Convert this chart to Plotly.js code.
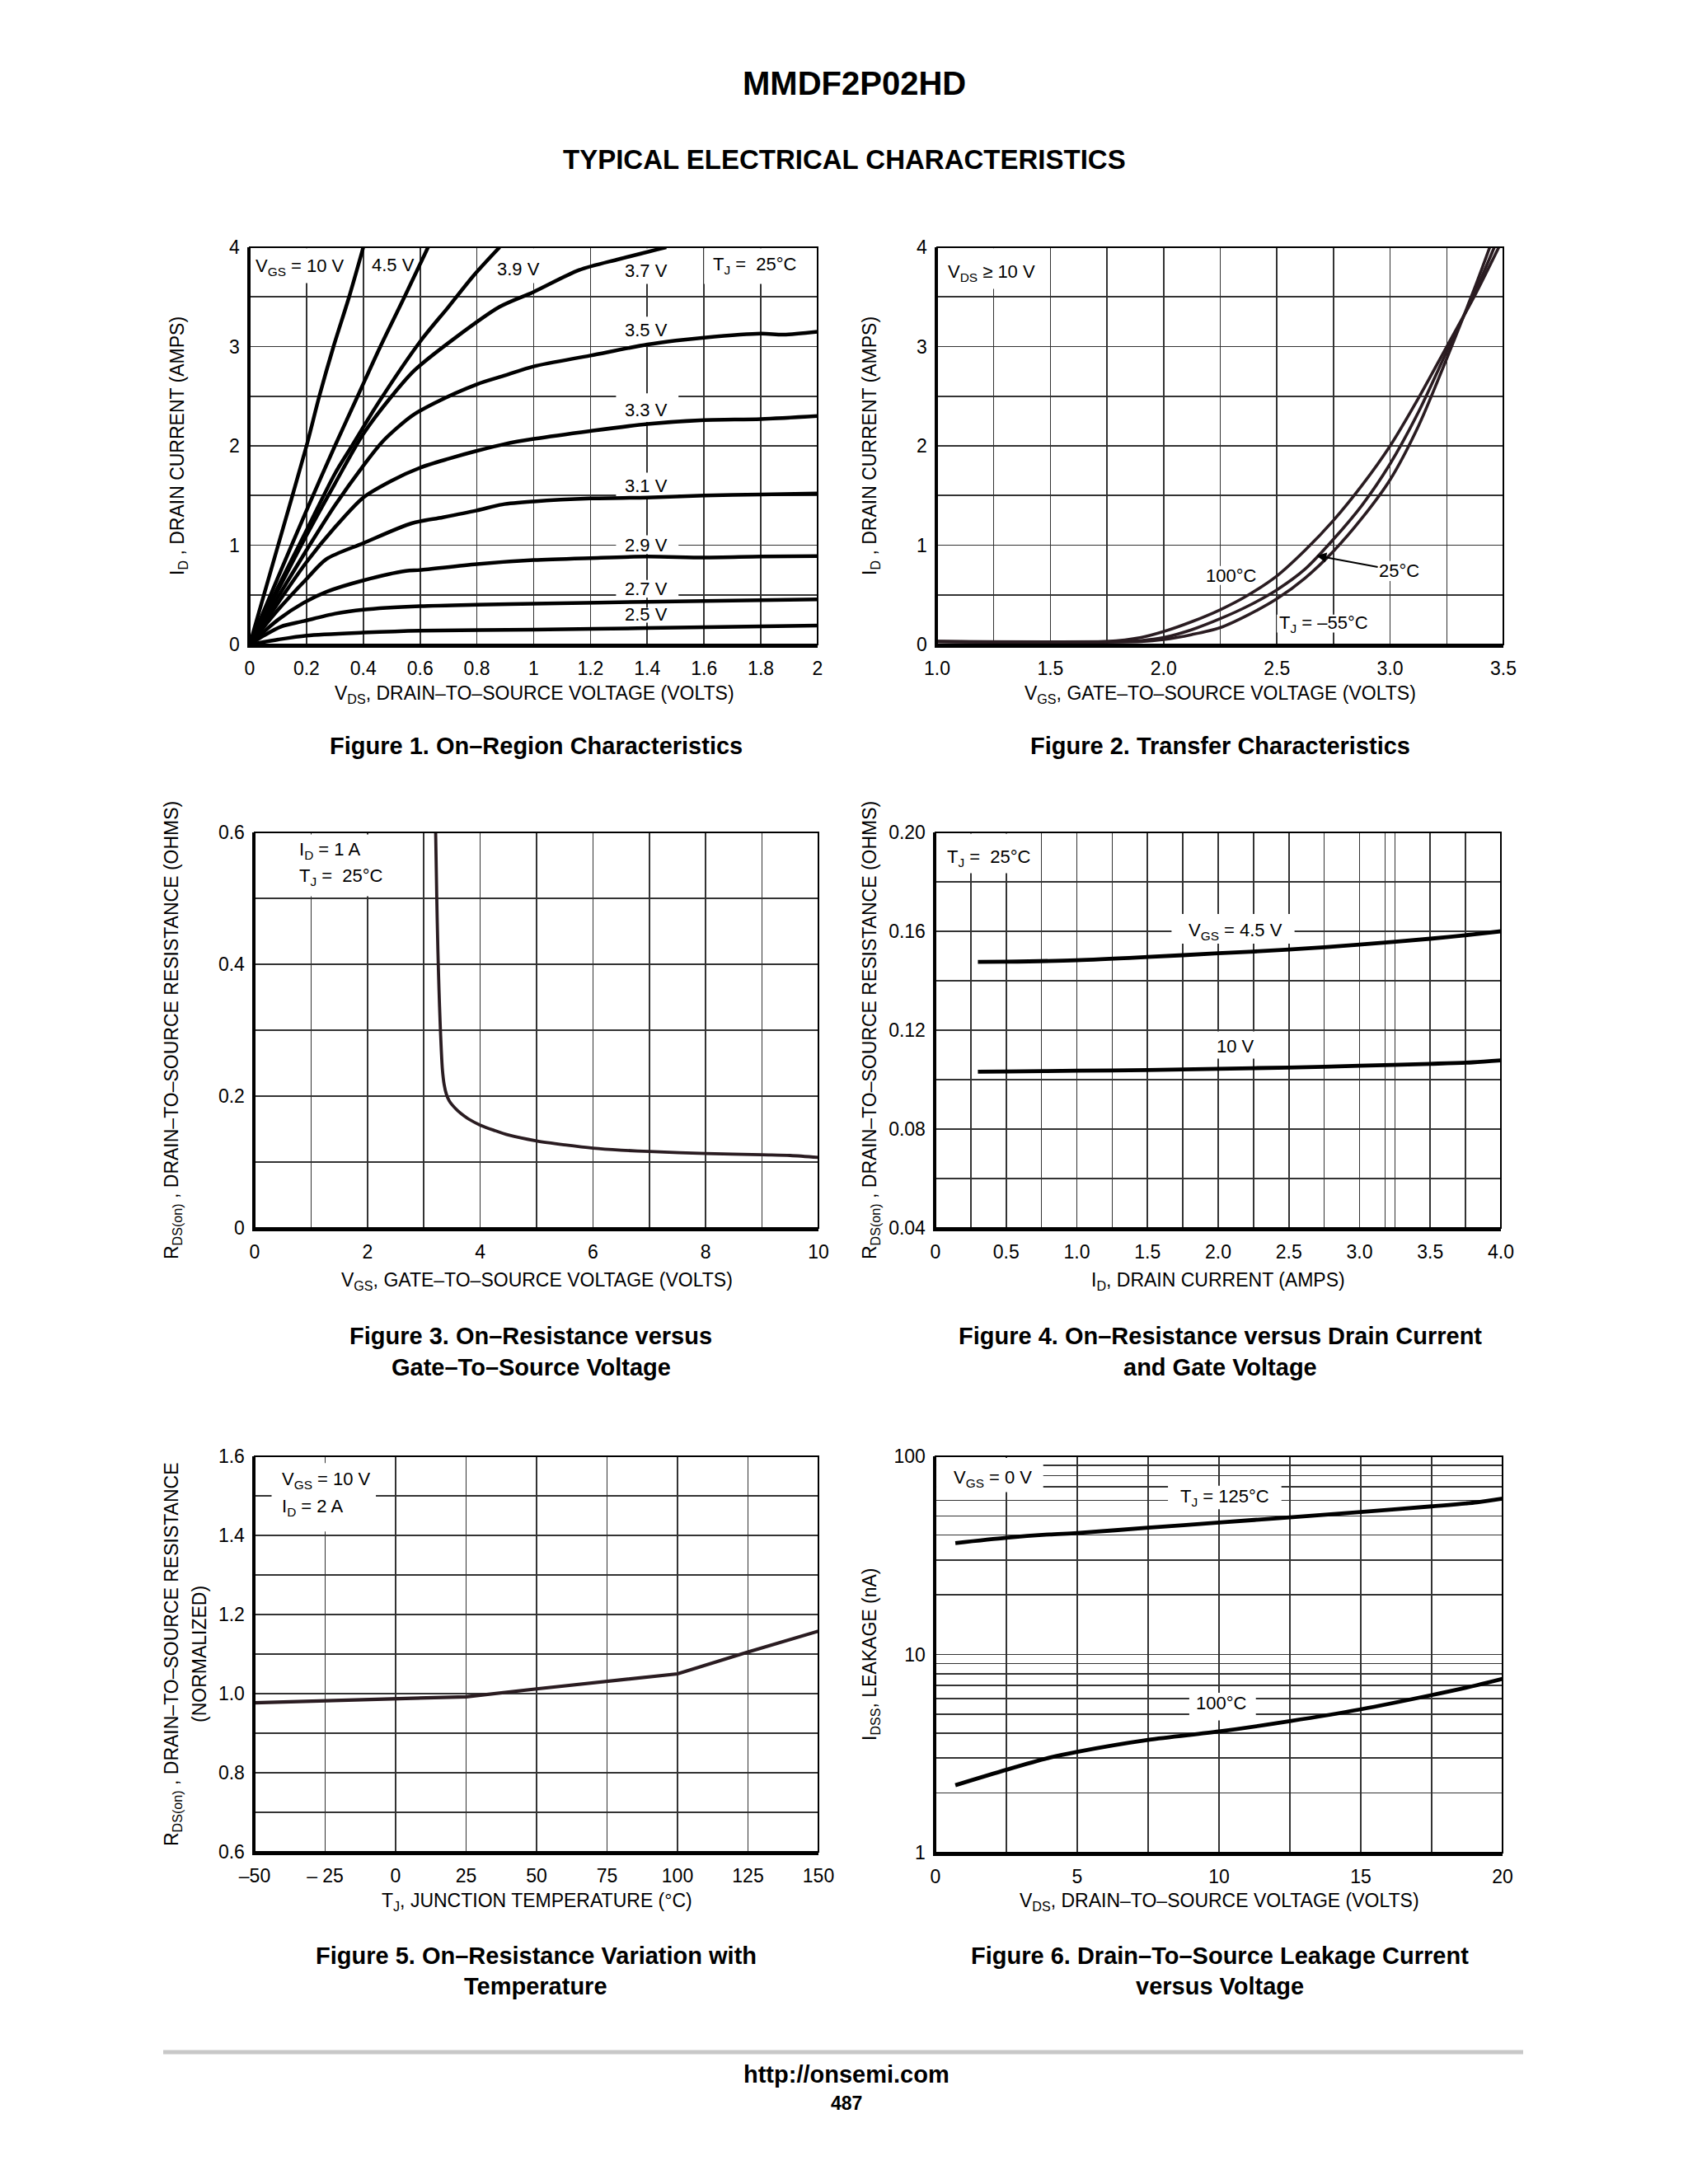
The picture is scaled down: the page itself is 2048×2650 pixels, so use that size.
<!DOCTYPE html>
<html><head><meta charset="utf-8">
<script src="https://cdn.plot.ly/plotly-3.0.1.min.js"></script>
<style>html,body{margin:0;padding:0;background:#fff;}#chart{width:2048px;height:2650px;}</style>
</head><body><div id="chart"></div>
<script>
// ---------- Figure 1: On-Region Characteristics ----------
const f1_10V_vds = [0, 0.1, 0.2, 0.245, 0.295, 0.35, 0.40];
const f1_10V_id  = [0, 1.0, 2.0, 2.5, 3.0, 3.5, 4.0];
const f1_45V_vds = [0, 0.1, 0.2, 0.3, 0.38, 0.46, 0.545, 0.628];
const f1_45V_id  = [0, 0.68, 1.35, 2.0, 2.5, 3.0, 3.5, 4.0];
const f1_39V_vds = [0, 0.1, 0.2, 0.3, 0.36, 0.45, 0.6, 0.7, 0.79, 0.88];
const f1_39V_id  = [0, 0.58, 1.15, 1.72, 2.0, 2.42, 3.05, 3.4, 3.72, 4.0];
const f1_37V_vds = [0, 0.1, 0.2, 0.3, 0.4, 0.5, 0.58, 0.72, 0.88, 1.0, 1.16, 1.3, 1.467];
const f1_37V_id  = [0, 0.55, 1.1, 1.62, 2.12, 2.5, 2.76, 3.08, 3.4, 3.55, 3.77, 3.88, 4.0];
const f1_35V_vds = [0, 0.1, 0.2, 0.3, 0.4, 0.47, 0.57, 0.65, 0.8, 0.9, 1.0, 1.2, 1.4, 1.5, 1.6, 1.8, 1.88, 2.0];
const f1_35V_id  = [0, 0.48, 0.95, 1.4, 1.8, 2.05, 2.3, 2.43, 2.62, 2.71, 2.8, 2.91, 3.02, 3.06, 3.09, 3.13, 3.12, 3.15];
const f1_33V_vds = [0, 0.1, 0.2, 0.3, 0.4, 0.5, 0.6, 0.7, 0.8, 0.9, 1.0, 1.2, 1.4, 1.6, 1.8, 2.0];
const f1_33V_id  = [0, 0.42, 0.83, 1.18, 1.48, 1.65, 1.78, 1.87, 1.95, 2.02, 2.07, 2.15, 2.22, 2.26, 2.27, 2.30];
const f1_31V_vds = [0, 0.1, 0.2, 0.27, 0.4, 0.57, 0.68, 0.8, 0.89, 1.0, 1.2, 1.4, 1.6, 1.8, 2.0];
const f1_31V_id  = [0, 0.35, 0.66, 0.86, 1.02, 1.22, 1.28, 1.35, 1.41, 1.44, 1.47, 1.48, 1.50, 1.51, 1.52];
const f1_29V_vds = [0, 0.1, 0.19, 0.27, 0.4, 0.55, 0.6, 0.8, 1.0, 1.2, 1.4, 1.6, 1.8, 2.0];
const f1_29V_id  = [0, 0.25, 0.42, 0.53, 0.645, 0.74, 0.75, 0.81, 0.85, 0.87, 0.885, 0.875, 0.885, 0.89];
const f1_27V_vds = [0, 0.05, 0.11, 0.19, 0.3, 0.4, 0.6, 0.8, 1.0, 1.4, 2.0];
const f1_27V_id  = [0, 0.09, 0.18, 0.235, 0.31, 0.35, 0.385, 0.40, 0.41, 0.43, 0.455];
const f1_25V_vds = [0, 0.1, 0.2, 0.4, 0.6, 1.0, 1.4, 2.0];
const f1_25V_id  = [0, 0.05, 0.09, 0.12, 0.14, 0.15, 0.165, 0.19];
const f1_xticks = [0, 0.2, 0.4, 0.6, 0.8, 1, 1.2, 1.4, 1.6, 1.8, 2];
const f1_xlabels = ['0', '0.2', '0.4', '0.6', '0.8', '1', '1.2', '1.4', '1.6', '1.8', '2'];
const f1_xminor = [];
const f1_yticks = [0, 1, 2, 3, 4];
const f1_ylabels = ['0', '1', '2', '3', '4'];
const f1_yminor = [0.5, 1.5, 2.5, 3.5];

// ---------- Figure 2: Transfer Characteristics ----------
const f2_100C_vgs = [1.0, 1.75, 1.9, 2.0, 2.125, 2.25, 2.375, 2.5, 2.625, 2.75, 2.875, 3.0, 3.125, 3.25, 3.375, 3.48];
const f2_100C_id  = [0.03, 0.03, 0.07, 0.13, 0.23, 0.35, 0.5, 0.69, 0.95, 1.25, 1.6, 2.0, 2.48, 3.0, 3.52, 4.0];
const f2_25C_vgs  = [1.0, 1.8, 1.9, 2.0, 2.125, 2.25, 2.375, 2.5, 2.625, 2.75, 2.875, 3.0, 3.125, 3.25, 3.375, 3.46];
const f2_25C_id   = [0.03, 0.03, 0.04, 0.07, 0.15, 0.26, 0.39, 0.55, 0.76, 1.06, 1.4, 1.82, 2.34, 2.95, 3.55, 4.0];
const f2_m55C_vgs = [1.0, 1.9, 2.0, 2.125, 2.25, 2.375, 2.5, 2.625, 2.75, 2.875, 3.0, 3.125, 3.25, 3.375, 3.44];
const f2_m55C_id  = [0.03, 0.03, 0.05, 0.1, 0.17, 0.3, 0.46, 0.67, 0.94, 1.27, 1.66, 2.2, 2.88, 3.6, 4.0];
const f2_xticks = [1.0, 1.5, 2.0, 2.5, 3.0, 3.5];
const f2_xlabels = ['1.0', '1.5', '2.0', '2.5', '3.0', '3.5'];
const f2_xminor = [1.25, 1.75, 2.25, 2.75, 3.25];
const f2_yticks = [0, 1, 2, 3, 4];
const f2_ylabels = ['0', '1', '2', '3', '4'];
const f2_yminor = [0.5, 1.5, 2.5, 3.5];

// ---------- Figure 3: On-Resistance vs Gate-To-Source Voltage ----------
const f3_vgs = [3.21, 3.23, 3.25, 3.27, 3.29, 3.31, 3.33, 3.36, 3.40, 3.45, 3.5, 3.6, 3.7, 3.8, 4.0, 4.25, 4.5, 5.0, 5.5, 6.0, 6.5, 7.0, 8.0, 9.0, 9.5, 10];
const f3_rds = [0.6, 0.5, 0.42, 0.36, 0.31, 0.27, 0.24, 0.218, 0.203, 0.193, 0.187, 0.178, 0.171, 0.165, 0.156, 0.148, 0.141, 0.132, 0.126, 0.121, 0.118, 0.116, 0.113, 0.111, 0.110, 0.107];
const f3_xticks = [0, 2, 4, 6, 8, 10];
const f3_xlabels = ['0', '2', '4', '6', '8', '10'];
const f3_xminor = [1, 3, 5, 7, 9];
const f3_yticks = [0, 0.2, 0.4, 0.6];
const f3_ylabels = ['0', '0.2', '0.4', '0.6'];
const f3_yminor = [0.1, 0.3, 0.5];

// ---------- Figure 4: On-Resistance vs Drain Current and Gate Voltage ----------
const f4_id = [0.3, 0.5, 1.0, 1.5, 2.0, 2.5, 3.0, 3.5, 3.8, 4.0];
const f4_45V_rds = [0.1476, 0.1477, 0.1483, 0.1496, 0.1511, 0.1526, 0.1546, 0.1570, 0.1587, 0.1600];
const f4_10V_rds = [0.1032, 0.1033, 0.1036, 0.1039, 0.1044, 0.1049, 0.1056, 0.1064, 0.1070, 0.1078];
const f4_xticks = [0, 0.5, 1.0, 1.5, 2.0, 2.5, 3.0, 3.5, 4.0];
const f4_xlabels = ['0', '0.5', '1.0', '1.5', '2.0', '2.5', '3.0', '3.5', '4.0'];
const f4_xminor = [0.25, 0.75, 1.25, 1.75, 2.25, 2.75, 3.18, 3.25, 3.75];
const f4_yticks = [0.04, 0.08, 0.12, 0.16, 0.20];
const f4_ylabels = ['0.04', '0.08', '0.12', '0.16', '0.20'];
const f4_yminor = [0.06, 0.10, 0.14, 0.18];

// ---------- Figure 5: On-Resistance Variation with Temperature ----------
const f5_tj = [-50, -25, 0, 25, 50, 75, 100, 125, 150];
const f5_rds = [0.977, 0.982, 0.987, 0.992, 1.012, 1.031, 1.050, 1.105, 1.158];
const f5_xticks = [-50, -25, 0, 25, 50, 75, 100, 125, 150];
const f5_xlabels = ['\u201350', '\u2013 25', '0', '25', '50', '75', '100', '125', '150'];
const f5_xminor = [];
const f5_yticks = [0.6, 0.8, 1.0, 1.2, 1.4, 1.6];
const f5_ylabels = ['0.6', '0.8', '1.0', '1.2', '1.4', '1.6'];
const f5_yminor = [0.7, 0.9, 1.1, 1.3, 1.5];

// ---------- Figure 6: Drain-To-Source Leakage Current vs Voltage ----------
const f6_vds = [0.7, 2.5, 4.0, 5.0, 7.5, 10, 12.5, 15, 17.5, 19.1, 20];
const f6_125C = [36.5, 38.8, 40.3, 41.0, 43.6, 46.3, 49.2, 52.3, 55.9, 58.6, 61.2];
const f6_100C = [2.19, 2.62, 3.01, 3.23, 3.71, 4.09, 4.61, 5.29, 6.24, 7.0, 7.53];
const f6_xticks = [0, 5, 10, 15, 20];
const f6_xlabels = ['0', '5', '10', '15', '20'];
const f6_xminor = [2.5, 7.5, 12.5, 17.5];
const f6_yticks = [1, 10, 100];
const f6_ylabels = ['1', '10', '100'];
const f6_yminor = [2, 3, 4, 5, 6, 7, 8, 9, 20, 30, 40, 50, 60, 70, 80, 90];

// ---------- layout helpers ----------
const W = 2048, H = 2650;
const LAB = '"Liberation Sans",Arial,Helvetica,sans-serif';
const SANS = '"Liberation Sans",Arial,Helvetica,sans-serif';
const BLACK = '#000000', DARK = '#2a1c21', GRID = '#333333';
const px = x => x / W, py = y => 1 - y / H;
const boxes = {1:[303,992,300,782], 2:[1137,1824,300,782], 3:[309,993,1010,1490], 4:[1135,1821,1010,1490], 5:[309,993,1767,2247], 6:[1135,1823,1767,2248]};
const xid = n => (n === 1 ? 'x' : 'x' + n), yid = n => (n === 1 ? 'y' : 'y' + n);

function baseAxis(range, vals, text, minor) {
  return {range:range, tickmode:'array', tickvals:vals, ticktext:text,
    minor:{tickmode:'array', tickvals:minor, showgrid:true, gridcolor:GRID, gridwidth:1.6, ticks:''},
    showgrid:true, gridcolor:GRID, gridwidth:1.6, showline:true, linecolor:BLACK, linewidth:3.5, ticks:'',
    zeroline:false, tickfont:{family:LAB, size:23, color:BLACK}, fixedrange:true};
}
function axisX(n, range, vals, text, minor, extra) {
  const b = boxes[n];
  return Object.assign(baseAxis(range, vals, text, minor), {domain:[px(b[0]), px(b[1])], anchor:yid(n), ticklabelstandoff:6}, extra||{});
}
function axisY(n, range, vals, text, minor, extra) {
  const b = boxes[n];
  return Object.assign(baseAxis(range, vals, text, minor), {domain:[py(b[3]), py(b[2])], anchor:xid(n), ticklabelstandoff:4}, extra||{});
}
function line(n, x, y, color, width, shape) {
  return {type:'scatter', mode:'lines', x:x, y:y, xaxis:xid(n), yaxis:yid(n),
    line:{color:color, width:width, shape:shape||'spline', smoothing:0.8}, hoverinfo:'skip'};
}

const traces = [
  line(1, f1_10V_vds, f1_10V_id, BLACK, 4.5), line(1, f1_45V_vds, f1_45V_id, BLACK, 4.5),
  line(1, f1_39V_vds, f1_39V_id, BLACK, 4.5), line(1, f1_37V_vds, f1_37V_id, BLACK, 4.5),
  line(1, f1_35V_vds, f1_35V_id, BLACK, 4.5), line(1, f1_33V_vds, f1_33V_id, BLACK, 4.5),
  line(1, f1_31V_vds, f1_31V_id, BLACK, 4.5), line(1, f1_29V_vds, f1_29V_id, BLACK, 4.5),
  line(1, f1_27V_vds, f1_27V_id, BLACK, 4.5), line(1, f1_25V_vds, f1_25V_id, BLACK, 4.5),
  line(2, f2_100C_vgs, f2_100C_id, DARK, 3.6), line(2, f2_25C_vgs, f2_25C_id, DARK, 3.6), line(2, f2_m55C_vgs, f2_m55C_id, DARK, 3.6),
  line(3, f3_vgs, f3_rds, DARK, 3.8),
  line(4, f4_id, f4_45V_rds, BLACK, 4.8), line(4, f4_id, f4_10V_rds, BLACK, 4.8),
  line(5, f5_tj, f5_rds, DARK, 4.2, 'linear'),
  line(6, f6_vds, f6_125C, BLACK, 4.8), line(6, f6_vds, f6_100C, BLACK, 4.8)
];

const layout = {
  width:W, height:H, margin:{l:0, r:0, t:0, b:0}, paper_bgcolor:'#fff', plot_bgcolor:'#fff', showlegend:false,
  xaxis:axisX(1, [0, 2], f1_xticks, f1_xlabels, f1_xminor), yaxis:axisY(1, [0, 4], f1_yticks, f1_ylabels, f1_yminor),
  xaxis2:axisX(2, [1, 3.5], f2_xticks, f2_xlabels, f2_xminor), yaxis2:axisY(2, [0, 4], f2_yticks, f2_ylabels, f2_yminor),
  xaxis3:axisX(3, [0, 10], f3_xticks, f3_xlabels, f3_xminor), yaxis3:axisY(3, [0, 0.6], f3_yticks, f3_ylabels, f3_yminor),
  xaxis4:axisX(4, [0, 4], f4_xticks, f4_xlabels, f4_xminor), yaxis4:axisY(4, [0.04, 0.20], f4_yticks, f4_ylabels, f4_yminor),
  xaxis5:axisX(5, [-50, 150], f5_xticks, f5_xlabels, f5_xminor), yaxis5:axisY(5, [0.6, 1.6], f5_yticks, f5_ylabels, f5_yminor),
  xaxis6:axisX(6, [0, 20], f6_xticks, f6_xlabels, f6_xminor), yaxis6:axisY(6, [0, 2], f6_yticks, f6_ylabels, f6_yminor, {type:'log'}),
  shapes:[], annotations:[]
};
const S = layout.shapes;

// white boxes behind text labels (hide gridlines, stay under the curves)
function wbox(n, x0, x1, y0, y1) {
  S.push({type:'rect', xref:xid(n), yref:yid(n), x0:x0, x1:x1, y0:y0, y1:y1, fillcolor:'#ffffff', line:{width:0}, layer:'between'});
}
wbox(1, 0.006, 0.37, 3.64, 3.99); wbox(1, 0.42, 0.59, 3.64, 3.99); wbox(1, 0.85, 1.04, 3.64, 3.99);
wbox(1, 1.29, 1.51, 3.63, 3.99); wbox(1, 1.60, 1.97, 3.63, 3.99);
wbox(1, 1.29, 1.51, 3.02, 3.30); wbox(1, 1.29, 1.51, 2.24, 2.53); wbox(1, 1.29, 1.51, 1.48, 1.73);
wbox(1, 1.29, 1.51, 0.91, 1.10); wbox(1, 1.29, 1.51, 0.47, 0.65); wbox(1, 1.29, 1.51, 0.22, 0.37);
wbox(2, 1.006, 1.47, 3.58, 3.99); wbox(2, 2.17, 2.43, 0.60, 0.79); wbox(2, 2.94, 3.14, 0.64, 0.84); wbox(2, 2.50, 2.90, 0.12, 0.30);
wbox(3, 0.3, 2.6, 0.503, 0.597);
wbox(4, 0.006, 0.70, 0.1835, 0.1995); wbox(4, 1.67, 2.54, 0.155, 0.167); wbox(4, 1.95, 2.30, 0.1085, 0.1195);
wbox(5, -44, -7, 1.41, 1.583);
wbox(6, 0.03, 3.8, 66, 98); wbox(6, 8.2, 12.2, 54, 71); wbox(6, 8.95, 11.3, 4.65, 6.4);

// frames (top/right thinner)
for (let n = 1; n <= 6; n++) {
  S.push({type:'rect', xref:xid(n)+' domain', yref:yid(n)+' domain', x0:0, x1:1, y0:0, y1:1, line:{color:BLACK, width:2}, layer:'above'});
}
// footer rule
S.push({type:'line', xref:'paper', yref:'paper', x0:px(198), x1:px(1848), y0:py(2490), y1:py(2490), line:{color:'#c8c8c8', width:5}, layer:'above'});

const NB = '\u00a0';
function lab(n, x, y, text, opts) {
  return Object.assign({xref:xid(n), yref:yid(n), x:x, y:y, text:text, showarrow:false, xanchor:'center', yanchor:'middle',
    font:{family:LAB, size:22, color:BLACK}}, opts||{});
}
const A = layout.annotations;
// fig 1 labels
A.push(lab(1, 0.015, 3.8, 'V<sub>GS</sub> = 10 V', {xanchor:'left'}));
A.push(lab(1, 0.505, 3.82, '4.5 V'));
A.push(lab(1, 0.945, 3.78, '3.9 V'));
A.push(lab(1, 1.395, 3.76, '3.7 V'));
A.push(lab(1, 1.78, 3.82, 'T<sub>J</sub> ='+NB+NB+'25°C'));
A.push(lab(1, 1.395, 3.17, '3.5 V'));
A.push(lab(1, 1.395, 2.36, '3.3 V'));
A.push(lab(1, 1.395, 1.60, '3.1 V'));
A.push(lab(1, 1.395, 1.00, '2.9 V'));
A.push(lab(1, 1.395, 0.56, '2.7 V'));
A.push(lab(1, 1.395, 0.30, '2.5 V'));
// fig 2 labels
A.push(lab(2, 1.04, 3.74, 'V<sub>DS</sub> \u2265 10 V', {xanchor:'left'}));
A.push(lab(2, 2.30, 0.69, '100°C'));
A.push(lab(2, 2.675, 0.895, '25°C', {axref:'x2', ayref:'y2', ax:3.04, ay:0.74, showarrow:true, arrowhead:2, arrowsize:1.2, arrowwidth:2, arrowcolor:BLACK, standoff:0}));
A.push(lab(2, 2.705, 0.21, 'T<sub>J</sub> = \u201355°C'));
// fig 3 labels
A.push(lab(3, 0.76, 0.573, 'I<sub>D</sub> = 1 A', {xanchor:'left'}));
A.push(lab(3, 0.76, 0.532, 'T<sub>J</sub> ='+NB+NB+'25°C', {xanchor:'left'}));
// fig 4 labels
A.push(lab(4, 0.07, 0.1896, 'T<sub>J</sub> ='+NB+NB+'25°C', {xanchor:'left'}));
A.push(lab(4, 2.125, 0.16, 'V<sub>GS</sub> = 4.5 V'));
A.push(lab(4, 2.125, 0.1135, '10 V'));
// fig 5 labels
A.push(lab(5, -41, 1.54, 'V<sub>GS</sub> = 10 V', {xanchor:'left'}));
A.push(lab(5, -41, 1.47, 'I<sub>D</sub> = 2 A', {xanchor:'left'}));
// fig 6 labels (log axis: annotation y in log10 units)
A.push(lab(6, 0.58, Math.log10(77.4), 'V<sub>GS</sub> = 0 V', {xanchor:'left'}));
A.push(lab(6, 10.2, Math.log10(61.8), 'T<sub>J</sub> = 125°C'));
A.push(lab(6, 10.1, Math.log10(5.67), '100°C'));

// page texts
function ptxt(x, y, text, size, bold, extra) {
  return Object.assign({xref:'paper', yref:'paper', x:px(x), y:py(y), text:bold?'<b>'+text+'</b>':text, showarrow:false,
    xanchor:'center', yanchor:'middle', font:{family:SANS, size:size, color:BLACK}}, extra||{});
}
A.push(ptxt(1036, 101, 'MMDF2P02HD', 40, true));
A.push(ptxt(1024, 194, 'TYPICAL ELECTRICAL CHARACTERISTICS', 33, true));
A.push(ptxt(650, 905, 'Figure 1. On\u2013Region Characteristics', 29, true));
A.push(ptxt(1480, 905, 'Figure 2. Transfer Characteristics', 29, true));
A.push(ptxt(644, 1621, 'Figure 3. On\u2013Resistance versus', 29, true));
A.push(ptxt(644, 1659, 'Gate\u2013To\u2013Source Voltage', 29, true));
A.push(ptxt(1480, 1621, 'Figure 4. On\u2013Resistance versus Drain Current', 29, true));
A.push(ptxt(1480, 1659, 'and Gate Voltage', 29, true));
A.push(ptxt(650, 2373, 'Figure 5. On\u2013Resistance Variation with', 29, true));
A.push(ptxt(650, 2410, 'Temperature', 29, true));
A.push(ptxt(1480, 2373, 'Figure 6. Drain\u2013To\u2013Source Leakage Current', 29, true));
A.push(ptxt(1480, 2410, 'versus Voltage', 29, true));
A.push(ptxt(1027, 2517, 'http://onsemi.com', 29, true));
A.push(ptxt(1027, 2552, '487', 23, true));

// axis titles
const xt = {family:LAB, size:23, color:BLACK};
const yt = {family:SANS, size:23, color:BLACK};
A.push(ptxt(648, 843, 'V<sub>DS</sub>, DRAIN\u2013TO\u2013SOURCE VOLTAGE (VOLTS)', 23, false, {font:xt}));
A.push(ptxt(1480, 843, 'V<sub>GS</sub>, GATE\u2013TO\u2013SOURCE VOLTAGE (VOLTS)', 23, false, {font:xt}));
A.push(ptxt(651, 1554, 'V<sub>GS</sub>, GATE\u2013TO\u2013SOURCE VOLTAGE (VOLTS)', 23, false, {font:xt}));
A.push(ptxt(1478, 1554, 'I<sub>D</sub>, DRAIN CURRENT (AMPS)', 23, false, {font:xt}));
A.push(ptxt(651, 2307, 'T<sub>J</sub>, JUNCTION TEMPERATURE (°C)', 23, false, {font:xt}));
A.push(ptxt(1479, 2307, 'V<sub>DS</sub>, DRAIN\u2013TO\u2013SOURCE VOLTAGE (VOLTS)', 23, false, {font:xt}));
A.push(ptxt(216, 541, 'I<sub>D</sub> , DRAIN CURRENT (AMPS)', 23, false, {font:yt, textangle:-90}));
A.push(ptxt(1056, 541, 'I<sub>D</sub> , DRAIN CURRENT (AMPS)', 23, false, {font:yt, textangle:-90}));
A.push(ptxt(209, 1250, 'R<sub>DS(on)</sub> , DRAIN\u2013TO\u2013SOURCE RESISTANCE (OHMS)', 23, false, {font:yt, textangle:-90}));
A.push(ptxt(1056, 1250, 'R<sub>DS(on)</sub> , DRAIN\u2013TO\u2013SOURCE RESISTANCE (OHMS)', 23, false, {font:yt, textangle:-90}));
A.push(ptxt(209, 2007, 'R<sub>DS(on)</sub> , DRAIN\u2013TO\u2013SOURCE RESISTANCE', 23, false, {font:yt, textangle:-90}));
A.push(ptxt(242, 2007, '(NORMALIZED)', 23, false, {font:yt, textangle:-90}));
A.push(ptxt(1056, 2007, 'I<sub>DSS</sub>, LEAKAGE (nA)', 23, false, {font:yt, textangle:-90}));

Plotly.newPlot('chart', traces, layout, {staticPlot:true, displayModeBar:false});
</script></body></html>
